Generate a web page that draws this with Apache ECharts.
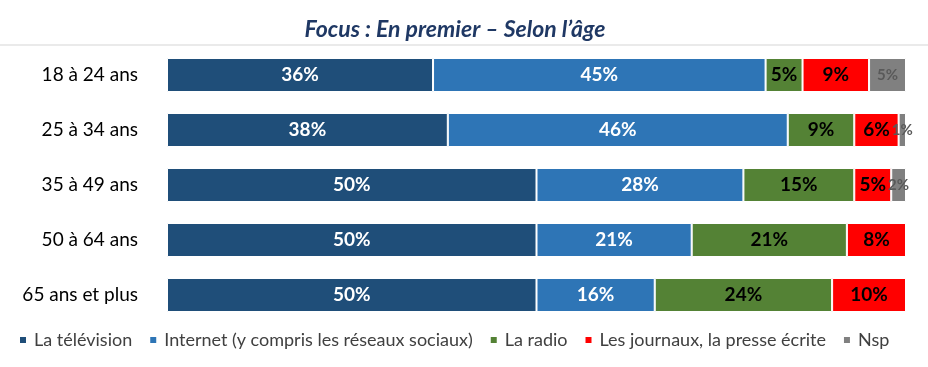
<!DOCTYPE html>
<html><head><meta charset="utf-8">
<script src="https://cdn.jsdelivr.net/npm/echarts@6/dist/echarts.min.js"></script>
<style>html,body{margin:0;padding:0;background:#fff}#c{width:928px;height:367px}</style>
</head><body><div id="c"></div>
<script>
const categories = ['18 à 24 ans', '25 à 34 ans', '35 à 49 ans', '50 à 64 ans', '65 ans et plus'];
const seriesNames = ['La télévision', 'Internet (y compris les réseaux sociaux)', 'La radio', 'Les journaux, la presse écrite', 'Nsp'];
const television = [36, 38, 50, 50, 50];
const internet = [45, 46, 28, 21, 16];
const radio = [5, 9, 15, 21, 24];
const journaux = [9, 6, 5, 8, 10];
const nsp = [5, 1, 2, 0, 0];
const colors = ['#1F4E79', '#2E75B6', '#548235', '#FF0000', '#808080'];
const labelColors = ['#FFFFFF', '#FFFFFF', '#000000', '#000000', '#595959'];
const labelSizes = [19, 19, 19, 19, 15];
const FONT = 'Lato';

const chart = echarts.init(document.getElementById('c'));
const allData = [television, internet, radio, journaux, nsp];
chart.setOption({
  animation: false,
  title: {
    text: 'Focus : En premier – Selon l’âge',
    left: 450, top: 13, textAlign: 'center',
    textStyle: {fontFamily: FONT, fontSize: 23, fontWeight: 'bold', fontStyle: 'italic', color: '#1F3864'}
  },
  graphic: [{type: 'line', shape: {x1: 0, y1: 45, x2: 928, y2: 45}, style: {stroke: '#E3E3E3', lineWidth: 1.5}}],
  legend: {
    bottom: 13, left: 13, itemWidth: 8, itemHeight: 8, itemGap: 16, icon: 'rect',
    textStyle: {fontFamily: FONT, fontSize: 18, color: '#404040', padding: [0, 0, 0, 2]},
    data: seriesNames
  },
  grid: {left: 167, right: 22, top: 47.5, height: 275, containLabel: false},
  xAxis: {type: 'value', min: 0, max: 100, show: false},
  yAxis: {
    type: 'category', data: categories, inverse: true,
    axisLine: {show: false}, axisTick: {show: false},
    axisLabel: {fontFamily: FONT, fontSize: 19, color: '#000', margin: 29}
  },
  series: seriesNames.map((n, i) => ({
    name: n, type: 'bar', stack: 'total', barWidth: 34,
    itemStyle: {color: colors[i], borderColor: '#fff', borderWidth: 1},
    label: {
      show: true, position: 'inside', fontFamily: FONT, fontWeight: 'bold',
      fontSize: labelSizes[i], color: labelColors[i],
      formatter: p => p.value > 0 ? p.value + '%' : ''
    },
    data: allData[i]
  }))
});
</script></body></html>
